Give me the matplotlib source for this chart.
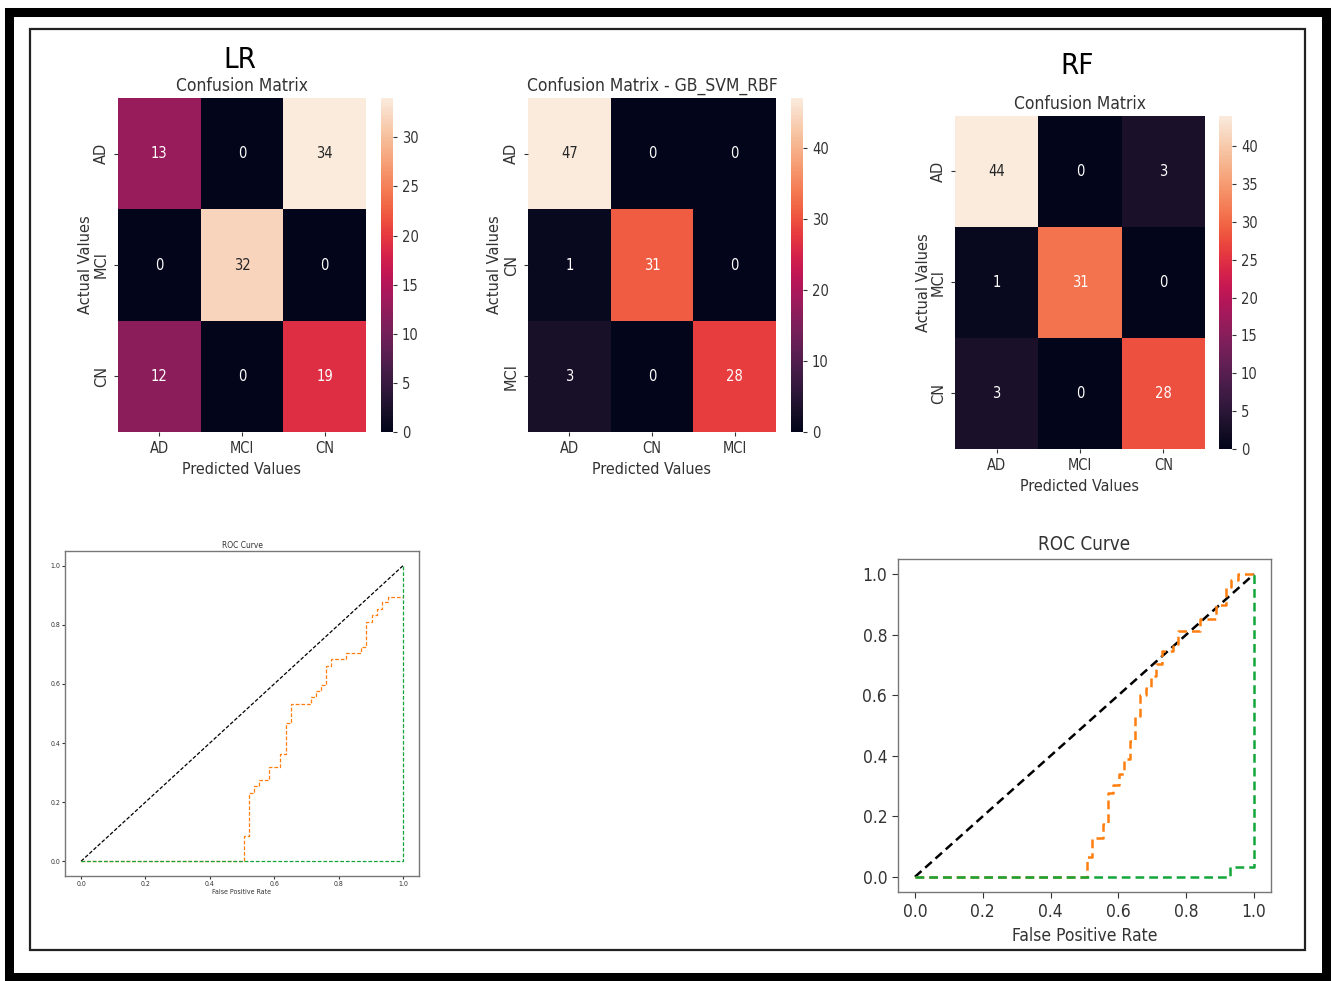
import matplotlib
matplotlib.use("Agg")
import matplotlib.pyplot as plt
import matplotlib.font_manager as fm
from matplotlib.patches import Rectangle
import numpy as np
import seaborn as sns

W, H = 1332, 981

# confusion matrices
lr_cm = [[13, 0, 34], [0, 32, 0], [12, 0, 19]]
lr_labels = ["AD", "MCI", "CN"]
gb_cm = [[47, 0, 0], [1, 31, 0], [3, 0, 28]]
gb_labels = ["AD", "CN", "MCI"]
rf_cm = [[44, 0, 3], [1, 31, 0], [3, 0, 28]]
rf_labels = ["AD", "MCI", "CN"]

# ROC corner points
lr_fpr = [0.0, 0.507, 0.507, 0.522, 0.522, 0.538, 0.538, 0.553, 0.553, 0.584, 0.584,
          0.619, 0.619, 0.636, 0.636, 0.651, 0.651, 0.713, 0.713, 0.729, 0.729,
          0.745, 0.745, 0.760, 0.760, 0.778, 0.778, 0.824, 0.824, 0.871, 0.871,
          0.886, 0.886, 0.904, 0.904, 0.919, 0.919, 0.936, 0.936, 0.953, 0.953, 1.0]
lr_tpr = [0.0, 0.0, 0.086, 0.086, 0.230, 0.230, 0.255, 0.255, 0.276, 0.276, 0.319,
          0.319, 0.363, 0.363, 0.469, 0.469, 0.533, 0.533, 0.556, 0.556, 0.577,
          0.577, 0.597, 0.597, 0.662, 0.662, 0.683, 0.683, 0.705, 0.705, 0.726,
          0.726, 0.809, 0.809, 0.832, 0.832, 0.855, 0.855, 0.877, 0.877, 0.896, 0.896]
lr_green_fpr = [0.0, 1.0, 1.0]
lr_green_tpr = [0.0, 0.0, 1.0]

rf_fpr = [0.0, 0.506, 0.506, 0.523, 0.523, 0.555, 0.555, 0.568, 0.568, 0.584, 0.584,
          0.602, 0.602, 0.617, 0.617, 0.634, 0.634, 0.648, 0.648, 0.663, 0.663,
          0.681, 0.681, 0.697, 0.697, 0.712, 0.712, 0.729, 0.729, 0.761, 0.761,
          0.776, 0.776, 0.840, 0.840, 0.889, 0.889, 0.918, 0.918, 0.933, 0.933,
          0.953, 0.953, 1.0]
rf_tpr = [0.0, 0.0, 0.066, 0.066, 0.129, 0.129, 0.173, 0.173, 0.278, 0.278, 0.303,
          0.303, 0.339, 0.339, 0.389, 0.389, 0.450, 0.450, 0.533, 0.533, 0.602,
          0.602, 0.623, 0.623, 0.663, 0.663, 0.704, 0.704, 0.745, 0.745, 0.770,
          0.770, 0.811, 0.811, 0.853, 0.853, 0.897, 0.897, 0.958, 0.958, 0.980,
          0.980, 1.0, 1.0]
rf_green_fpr = [0.0, 0.930, 0.930, 1.0, 1.0]
rf_green_tpr = [0.0, 0.0, 0.033, 0.033, 1.0]

# horizontal text in the source is squeezed; use a narrow face when one exists
ents = fm.fontManager.ttflist
NARROW = None
for f in ents:
    if str(f.stretch) in ("condensed", "semi-condensed", "extra-condensed", "ultra-condensed") \
            or "Condensed" in f.name or "Narrow" in f.name:
        NARROW = dict(family=f.name, fontstretch=f.stretch)
        break
if NARROW is None:
    names = {f.name for f in ents}
    NARROW = dict(family="Roboto" if "Roboto" in names else "DejaVu Sans", fontstretch="normal")
UPRIGHT = dict(family="DejaVu Sans", fontstretch="normal")
TXT = "#333333"

fig = plt.figure(figsize=(W / 100, H / 100), dpi=100)


def px_axes(x0, y0, x1, y1):
    return fig.add_axes([x0 / W, 1 - y1 / H, (x1 - x0) / W, (y1 - y0) / H])


# frames
fig.patches.append(Rectangle((9 / W, 1 - 977 / H), 1317 / W, 965 / H, transform=fig.transFigure,
                             fill=False, ec="black", lw=6.5, zorder=0))
fig.patches.append(Rectangle((30 / W, 1 - 950 / H), 1275 / W, 921 / H, transform=fig.transFigure,
                             fill=False, ec="#222222", lw=1.6, zorder=0))


def confusion(box, cbox, cm, labels, title, fs, ylab_x):
    ax = px_axes(*box)
    cax = px_axes(*cbox)
    sns.heatmap(np.array(cm), annot=True, fmt="d", ax=ax, cbar_ax=cax,
                xticklabels=labels, yticklabels=labels,
                annot_kws=dict(fontsize=fs, **NARROW))
    ax.set_title(title, fontsize=fs + 2, color=TXT, pad=5, **NARROW)
    ax.set_xlabel("Predicted Values", fontsize=fs + 1, color=TXT, labelpad=4, **NARROW)
    ax.set_ylabel("Actual Values", fontsize=fs, color=TXT, **UPRIGHT)
    ax.yaxis.set_label_coords(ylab_x, 0.5)
    ax.tick_params(length=3, colors=TXT, labelsize=fs)
    for t in ax.get_xticklabels():
        t.set_fontstretch(NARROW["fontstretch"]); t.set_family(NARROW["family"])
    for t in ax.get_yticklabels():
        t.set_rotation(90); t.set_va("center")
    cax.tick_params(length=3, colors=TXT, labelsize=fs)
    for t in cax.get_yticklabels():
        t.set_fontstretch(NARROW["fontstretch"]); t.set_family(NARROW["family"])
    return ax


confusion((118, 98, 366, 432), (381, 98, 393, 432), lr_cm, lr_labels,
          "Confusion Matrix", 10.5, -0.10)
confusion((528, 98, 776, 432), (791, 98, 803, 432), gb_cm, gb_labels,
          "Confusion Matrix - GB_SVM_RBF", 10.5, -0.105)
confusion((955, 116, 1205, 449), (1219, 116, 1232, 449), rf_cm, rf_labels,
          "Confusion Matrix", 10.5, -0.096)

fig.text(240 / W, 1 - 60 / H, "LR", fontsize=21, ha="center", va="center", color="black", **NARROW)
fig.text(1077 / W, 1 - 66 / H, "RF", fontsize=21, ha="center", va="center", color="black", **NARROW)


def roc(box, fpr, tpr, gfpr, gtpr, fs, lw, dash, tick_len):
    ax = px_axes(*box)
    ax.plot([0, 1], [0, 1], color="black", ls="--", lw=lw, dashes=dash)
    ax.plot(fpr, tpr, color="#ff7f0e", ls="--", lw=lw, dashes=dash)
    ax.plot(gfpr, gtpr, color="#12a63a", ls="--", lw=lw, dashes=dash)
    ax.set_title("ROC Curve", fontsize=fs + 1, color=TXT, pad=fs * 0.5, **NARROW)
    ax.set_xlabel("False Positive Rate", fontsize=fs, color=TXT, labelpad=fs * 0.35, **NARROW)
    ax.set_xticks([0, 0.2, 0.4, 0.6, 0.8, 1.0])
    ax.set_yticks([0, 0.2, 0.4, 0.6, 0.8, 1.0])
    ax.tick_params(length=tick_len, width=0.8, colors=TXT, labelsize=fs, pad=fs * 0.3)
    for t in ax.get_xticklabels() + ax.get_yticklabels():
        t.set_fontstretch(NARROW["fontstretch"]); t.set_family(NARROW["family"])
    for s in ax.spines.values():
        s.set_color("#777777"); s.set_linewidth(1.0)
    return ax


roc((65, 551, 419, 876), lr_fpr, lr_tpr, lr_green_fpr, lr_green_tpr, 5.0, 0.9, (3, 1.5), 2)
roc((898, 559, 1271, 892), rf_fpr, rf_tpr, rf_green_fpr, rf_green_tpr, 12.5, 1.8, (3.5, 2), 4)

fig.savefig("out.png", dpi=100)
